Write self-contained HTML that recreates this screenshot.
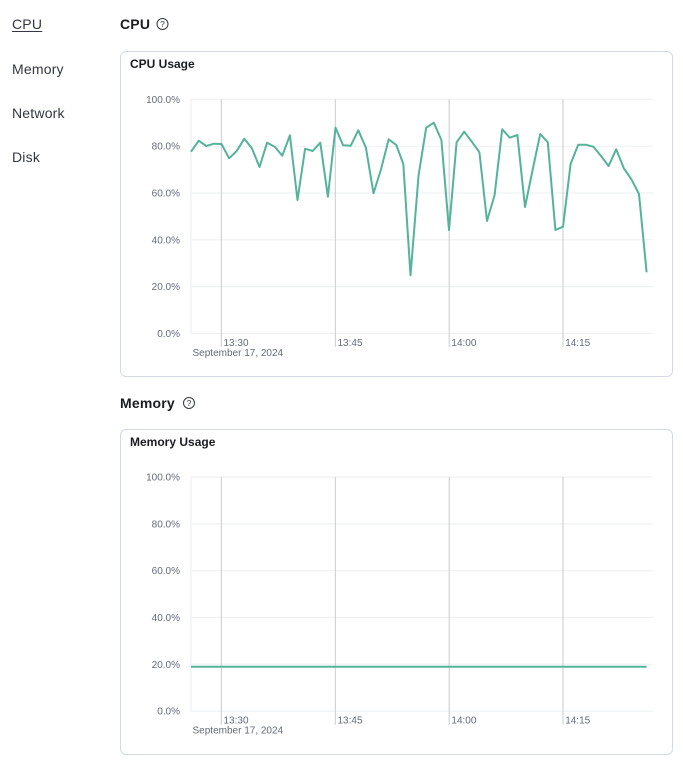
<!DOCTYPE html>
<html>
<head>
<meta charset="utf-8">
<style>
  html,body{margin:0;padding:0;background:#fff;}
  body{width:683px;height:771px;position:relative;overflow:hidden;font-family:"Liberation Sans",sans-serif;color:#343741;}
  .nav{position:absolute;left:12px;font-size:14px;color:#343741;line-height:16px;letter-spacing:0.2px;}
  .h{position:absolute;left:120px;font-size:14px;font-weight:bold;color:#1a1c21;line-height:16px;letter-spacing:0.2px;}
  .card{position:absolute;left:120px;width:553px;height:326px;border:1px solid #d3dae6;border-radius:6px;box-sizing:border-box;}
  .ct{position:absolute;left:9px;top:5px;font-size:12px;font-weight:bold;color:#1a1c21;line-height:14px;}
  svg{position:absolute;left:0;top:0;}
</style>
</head>
<body>
<div class="nav" style="top:16px;text-decoration:underline;text-underline-offset:2px;">CPU</div>
<div class="nav" style="top:61px;">Memory</div>
<div class="nav" style="top:105px;">Network</div>
<div class="nav" style="top:149px;">Disk</div>

<div class="h" style="top:16px;">CPU</div>
<div class="h" style="top:395px;">Memory</div>

<div class="card" style="top:51px;"><div class="ct">CPU Usage</div></div>
<div class="card" style="top:429px;"><div class="ct">Memory Usage</div></div>

<svg width="683" height="771" viewBox="0 0 683 771" xmlns="http://www.w3.org/2000/svg" font-family="Liberation Sans, sans-serif">
  <!-- help icons -->
  <g fill="none" stroke="#343741" stroke-width="1">
    <circle cx="162.5" cy="24" r="5.5"/>
    <circle cx="189" cy="403" r="5.5"/>
  </g>
  <text x="162.5" y="27.2" font-size="8.5" text-anchor="middle" fill="#343741">?</text>
  <text x="189" y="406.2" font-size="8.5" text-anchor="middle" fill="#343741">?</text>

  <!-- CPU chart -->
  <g id="cpu">
    <g stroke="#eef0f4" stroke-width="1.2">
      <line x1="191" y1="99.3" x2="653" y2="99.3"/>
      <line x1="191" y1="146.2" x2="653" y2="146.2"/>
      <line x1="191" y1="193" x2="653" y2="193"/>
      <line x1="191" y1="239.8" x2="653" y2="239.8"/>
      <line x1="191" y1="286.6" x2="653" y2="286.6"/>
      <line x1="191" y1="333.4" x2="653" y2="333.4"/>
      <line x1="191" y1="99.3" x2="191" y2="333.4"/>
    </g>
    <g stroke="#c9cbcf" stroke-width="1">
      <line x1="221.3" y1="99.3" x2="221.3" y2="347"/>
      <line x1="335.3" y1="99.3" x2="335.3" y2="347"/>
      <line x1="449.2" y1="99.3" x2="449.2" y2="347"/>
      <line x1="563" y1="99.3" x2="563" y2="347"/>
    </g>
    <g font-size="10" fill="#646a77" text-anchor="end">
      <text x="180" y="102.8">100.0%</text>
      <text x="180" y="149.7">80.0%</text>
      <text x="180" y="196.5">60.0%</text>
      <text x="180" y="243.3">40.0%</text>
      <text x="180" y="290.1">20.0%</text>
      <text x="180" y="336.9">0.0%</text>
    </g>
    <g font-size="10" fill="#646a77">
      <text x="223.5" y="345.8">13:30</text>
      <text x="337.5" y="345.8">13:45</text>
      <text x="451.4" y="345.8">14:00</text>
      <text x="565.2" y="345.8">14:15</text>
      <text x="192.5" y="355.8">September 17, 2024</text>
    </g>
    <polyline fill="none" stroke="#54b399" stroke-width="2" stroke-linejoin="round" points="
      191,151.7 198.7,140.7 206.3,146 213.9,143.7 221.5,144 229.1,158.3 236.7,151 244.3,138.7 251.9,148.3 259.5,167
      267.1,142.7 274.7,146.7 282.3,155.7 289.9,135.3 297.5,200 305.1,148.7 312.7,151 320.3,142.7 327.9,196.7 335.5,127.7
      343.1,145.3 350.7,145.7 358.3,130.3 365.9,147.7 373.5,193.3 381.1,169 388.7,139.3 396.3,145 403.3,164 410.5,275.3
      418.6,175 426.2,127.7 433.8,122.7 441.4,140 449,230 456.6,142.3 464.2,131.7 471.8,141.7 479.4,152.3 487,221
      494.6,195 502.2,129.3 509.8,137.7 517.4,135 525,207 532.6,170 540.2,134 547.8,142.3 555.4,230 563,226.7
      570.6,164 578.2,144.7 585.8,144.7 593.4,146.7 601,156 608.6,166 616.2,149.3 623.8,168.3 631.4,179.3 639,194 646.6,272.3"/>
  </g>

  <!-- Memory chart -->
  <g transform="translate(0,377.7)">
    <g stroke="#eef0f4" stroke-width="1.2">
      <line x1="191" y1="99.3" x2="653" y2="99.3"/>
      <line x1="191" y1="146.2" x2="653" y2="146.2"/>
      <line x1="191" y1="193" x2="653" y2="193"/>
      <line x1="191" y1="239.8" x2="653" y2="239.8"/>
      <line x1="191" y1="286.6" x2="653" y2="286.6"/>
      <line x1="191" y1="333.4" x2="653" y2="333.4"/>
      <line x1="191" y1="99.3" x2="191" y2="333.4"/>
    </g>
    <g stroke="#c9cbcf" stroke-width="1">
      <line x1="221.3" y1="99.3" x2="221.3" y2="347"/>
      <line x1="335.3" y1="99.3" x2="335.3" y2="347"/>
      <line x1="449.2" y1="99.3" x2="449.2" y2="347"/>
      <line x1="563" y1="99.3" x2="563" y2="347"/>
    </g>
    <g font-size="10" fill="#646a77" text-anchor="end">
      <text x="180" y="102.8">100.0%</text>
      <text x="180" y="149.7">80.0%</text>
      <text x="180" y="196.5">60.0%</text>
      <text x="180" y="243.3">40.0%</text>
      <text x="180" y="290.1">20.0%</text>
      <text x="180" y="336.9">0.0%</text>
    </g>
    <g font-size="10" fill="#646a77">
      <text x="223.5" y="345.8">13:30</text>
      <text x="337.5" y="345.8">13:45</text>
      <text x="451.4" y="345.8">14:00</text>
      <text x="565.2" y="345.8">14:15</text>
      <text x="192.5" y="355.8">September 17, 2024</text>
    </g>
    <line x1="191" y1="289" x2="646.6" y2="289" stroke="#54b399" stroke-width="2"/>
  </g>
</svg>
</body>
</html>
